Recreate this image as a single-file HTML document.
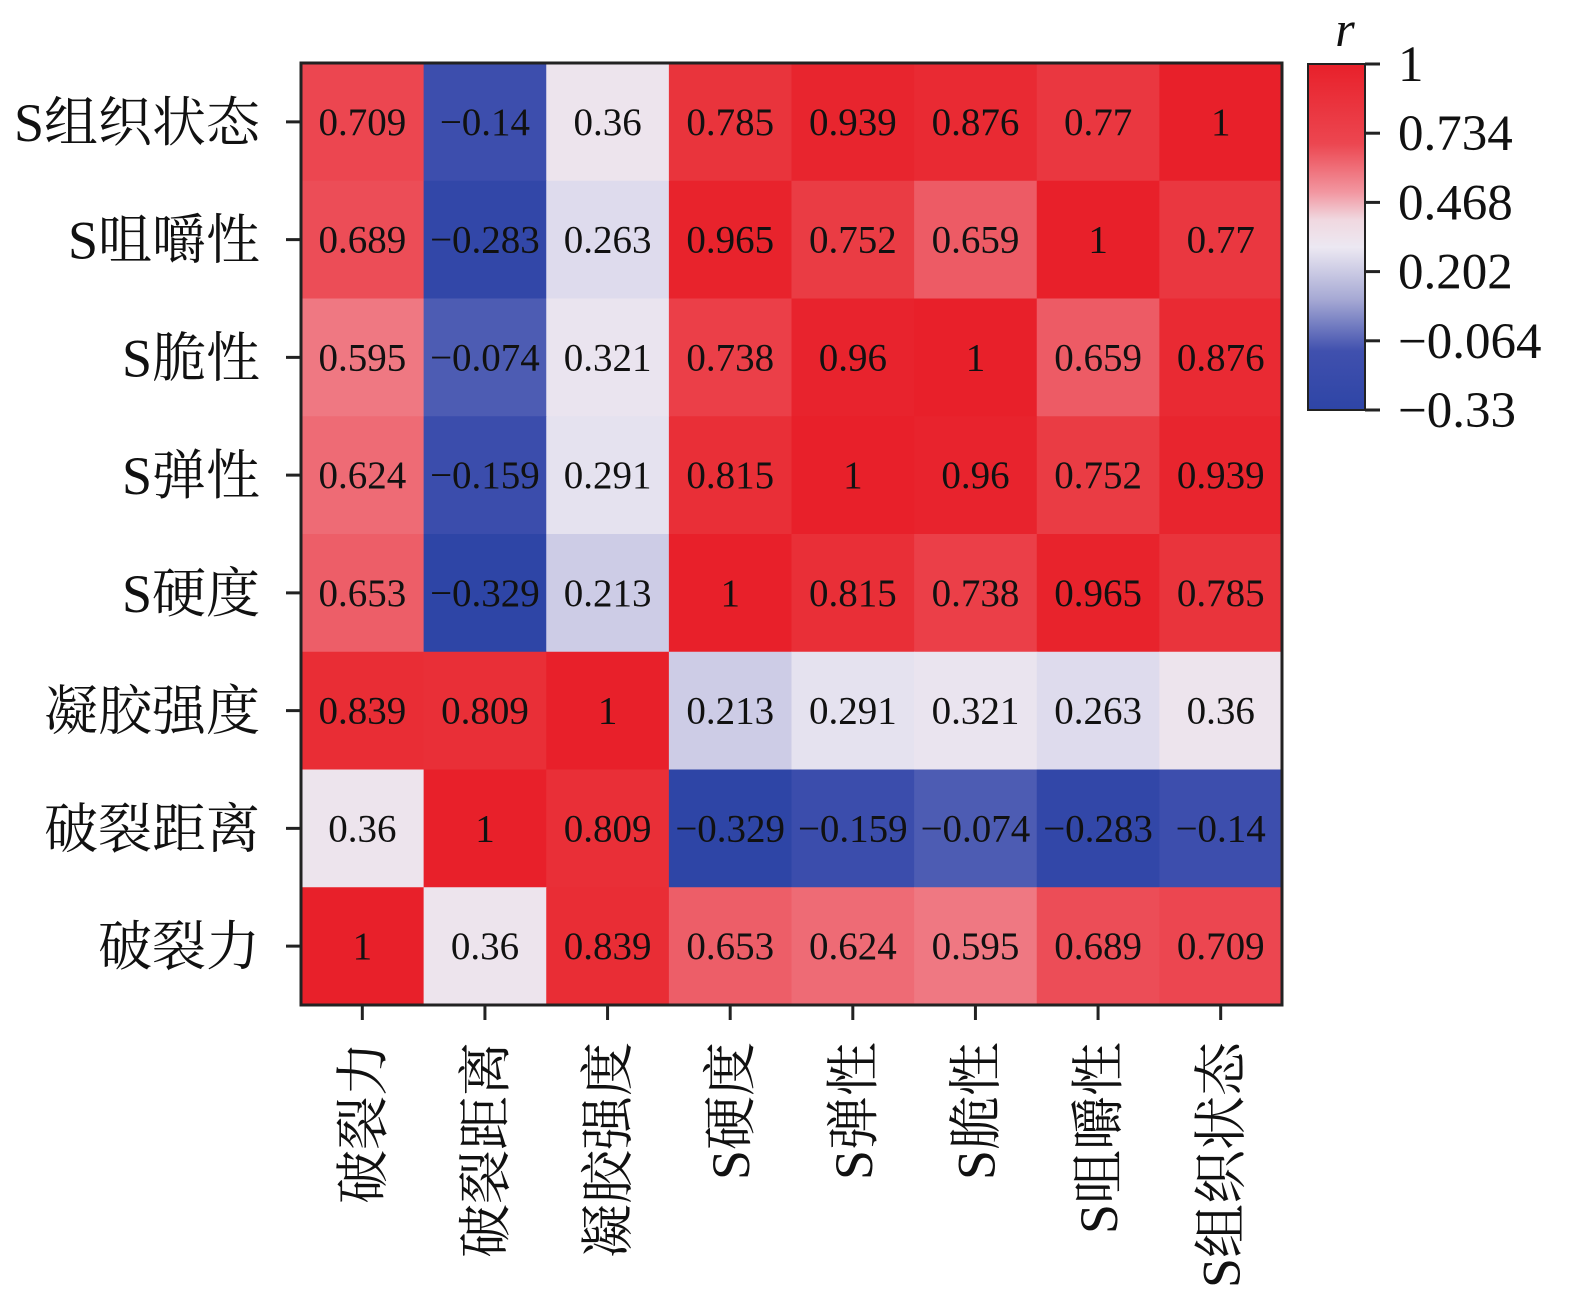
<!DOCTYPE html>
<html><head><meta charset="utf-8">
<style>
html,body{margin:0;padding:0;background:#fff;}
svg{display:block;}
text{font-family:"Liberation Serif","Noto Serif CJK SC",serif;fill:#111;}
</style></head>
<body>
<svg id="chart" width="1575" height="1299" viewBox="0 0 1575 1299" xmlns="http://www.w3.org/2000/svg">
<defs>
<linearGradient id="cbar" x1="0" y1="1" x2="0" y2="0">
<stop offset="0%" stop-color="#2e45a6"/>
<stop offset="17%" stop-color="#4050ae"/>
<stop offset="32%" stop-color="#a6a9d4"/>
<stop offset="47%" stop-color="#ece8f2"/>
<stop offset="55%" stop-color="#f0d8e0"/>
<stop offset="63%" stop-color="#f296a0"/>
<stop offset="77%" stop-color="#ec4650"/>
<stop offset="100%" stop-color="#e8202a"/>
</linearGradient>
</defs>
<g id="cells"></g>
<rect x="301" y="63" width="981" height="942" fill="none" stroke="#222" stroke-width="3"/>
<g id="axes"></g>
<rect x="1308" y="64" width="57" height="346" fill="url(#cbar)" stroke="#222" stroke-width="2"/>
<text x="1345" y="46" font-size="50" font-style="italic" text-anchor="middle">r</text>
<g id="cbticks"></g>
</svg>
<script>
const vars = ["破裂力","破裂距离","凝胶强度","S硬度","S弹性","S脆性","S咀嚼性","S组织状态"];
const rowOrder = ["S组织状态","S咀嚼性","S脆性","S弹性","S硬度","凝胶强度","破裂距离","破裂力"];
const r破裂力 = [1,0.36,0.839,0.653,0.624,0.595,0.689,0.709];
const r破裂距离 = [0.36,1,0.809,-0.329,-0.159,-0.074,-0.283,-0.14];
const r凝胶强度 = [0.839,0.809,1,0.213,0.291,0.321,0.263,0.36];
const rS硬度 = [0.653,-0.329,0.213,1,0.815,0.738,0.965,0.785];
const rS弹性 = [0.624,-0.159,0.291,0.815,1,0.96,0.752,0.939];
const rS脆性 = [0.595,-0.074,0.321,0.738,0.96,1,0.659,0.876];
const rS咀嚼性 = [0.689,-0.283,0.263,0.965,0.752,0.659,1,0.77];
const rS组织状态 = [0.709,-0.14,0.36,0.785,0.939,0.876,0.77,1];
const cbTicks = [1,0.734,0.468,0.202,-0.064,-0.33];
const matrix = [r破裂力,r破裂距离,r凝胶强度,rS硬度,rS弹性,rS脆性,rS咀嚼性,rS组织状态];

const NS="http://www.w3.org/2000/svg";
const X0=301,X1=1282,Y0=63,Y1=1005;
const cw=(X1-X0)/vars.length, ch=(Y1-Y0)/rowOrder.length;
const xPos=i=>X0+i*cw, yPos=j=>Y0+j*ch;
const vMin=-0.33,vMax=1;
const cbY=v=>410-(v-vMin)/(vMax-vMin)*346;
const stops=[[-0.33,[46,69,166]],[-0.1,[64,80,174]],[0.1,[166,169,212]],[0.25,[218,216,236]],[0.3,[232,228,240]],[0.37,[238,228,236]],[0.5,[242,160,170]],[0.6,[239,118,128]],[0.7,[236,72,82]],[0.8,[233,48,56]],[1,[232,32,42]]];
function color(v){
  for(let k=0;k<stops.length-1;k++){
    const [a,ca]=stops[k],[b,cb]=stops[k+1];
    if(v<=b||k===stops.length-2){
      const t=Math.max(0,Math.min(1,(v-a)/(b-a)));
      return "rgb("+ca.map((c,i)=>Math.round(c+(cb[i]-c)*t)).join(",")+")";
    }
  }
}
function fmt(v){return (v<0?"−"+String(-v):String(v));}
function mk(tag,attrs,parent,txt){const e=document.createElementNS(NS,tag);for(const k in attrs)e.setAttribute(k,attrs[k]);if(txt!==undefined)e.textContent=txt;parent.appendChild(e);return e;}
const cells=document.getElementById("cells"),axes=document.getElementById("axes"),cbt=document.getElementById("cbticks");
rowOrder.forEach((rn,j)=>{
  const row=matrix[vars.indexOf(rn)];
  vars.forEach((cn,i)=>{
    const v=row[i];
    const r=mk("rect",{x:xPos(i),y:yPos(j),width:cw+0.6,height:ch+0.6,fill:color(v)},cells);
    
    
    const t=mk("text",{x:xPos(i)+cw/2,y:yPos(j)+ch/2+13,"font-size":39,"text-anchor":"middle"},cells,fmt(v));
    
    
  });
  const yc=yPos(j)+ch/2;
  const tk=mk("line",{x1:286,x2:301,y1:yc,y2:yc,stroke:"#222","stroke-width":3},axes);
  
  
  const lb=mk("text",{x:260,y:yc+19,"font-size":54,"text-anchor":"end"},axes,rn);
  
  
});
vars.forEach((cn,i)=>{
  const xc=xPos(i)+cw/2;
  const tk=mk("line",{x1:xc,x2:xc,y1:1005,y2:1020,stroke:"#222","stroke-width":3},axes);
  
  
  const lb=mk("text",{x:0,y:0,"font-size":54,"text-anchor":"end",transform:`translate(${xc+19},1042) rotate(-90)`},axes,cn);
  
  
});
cbTicks.forEach(v=>{
  const y=cbY(v);
  const tk=mk("line",{x1:1365,x2:1380,y1:y,y2:y,stroke:"#222","stroke-width":3},cbt);
  
  
  const lb=mk("text",{x:1398,y:y+17,"font-size":51},cbt,fmt(v));
  
  
});
</script>
</body></html>
